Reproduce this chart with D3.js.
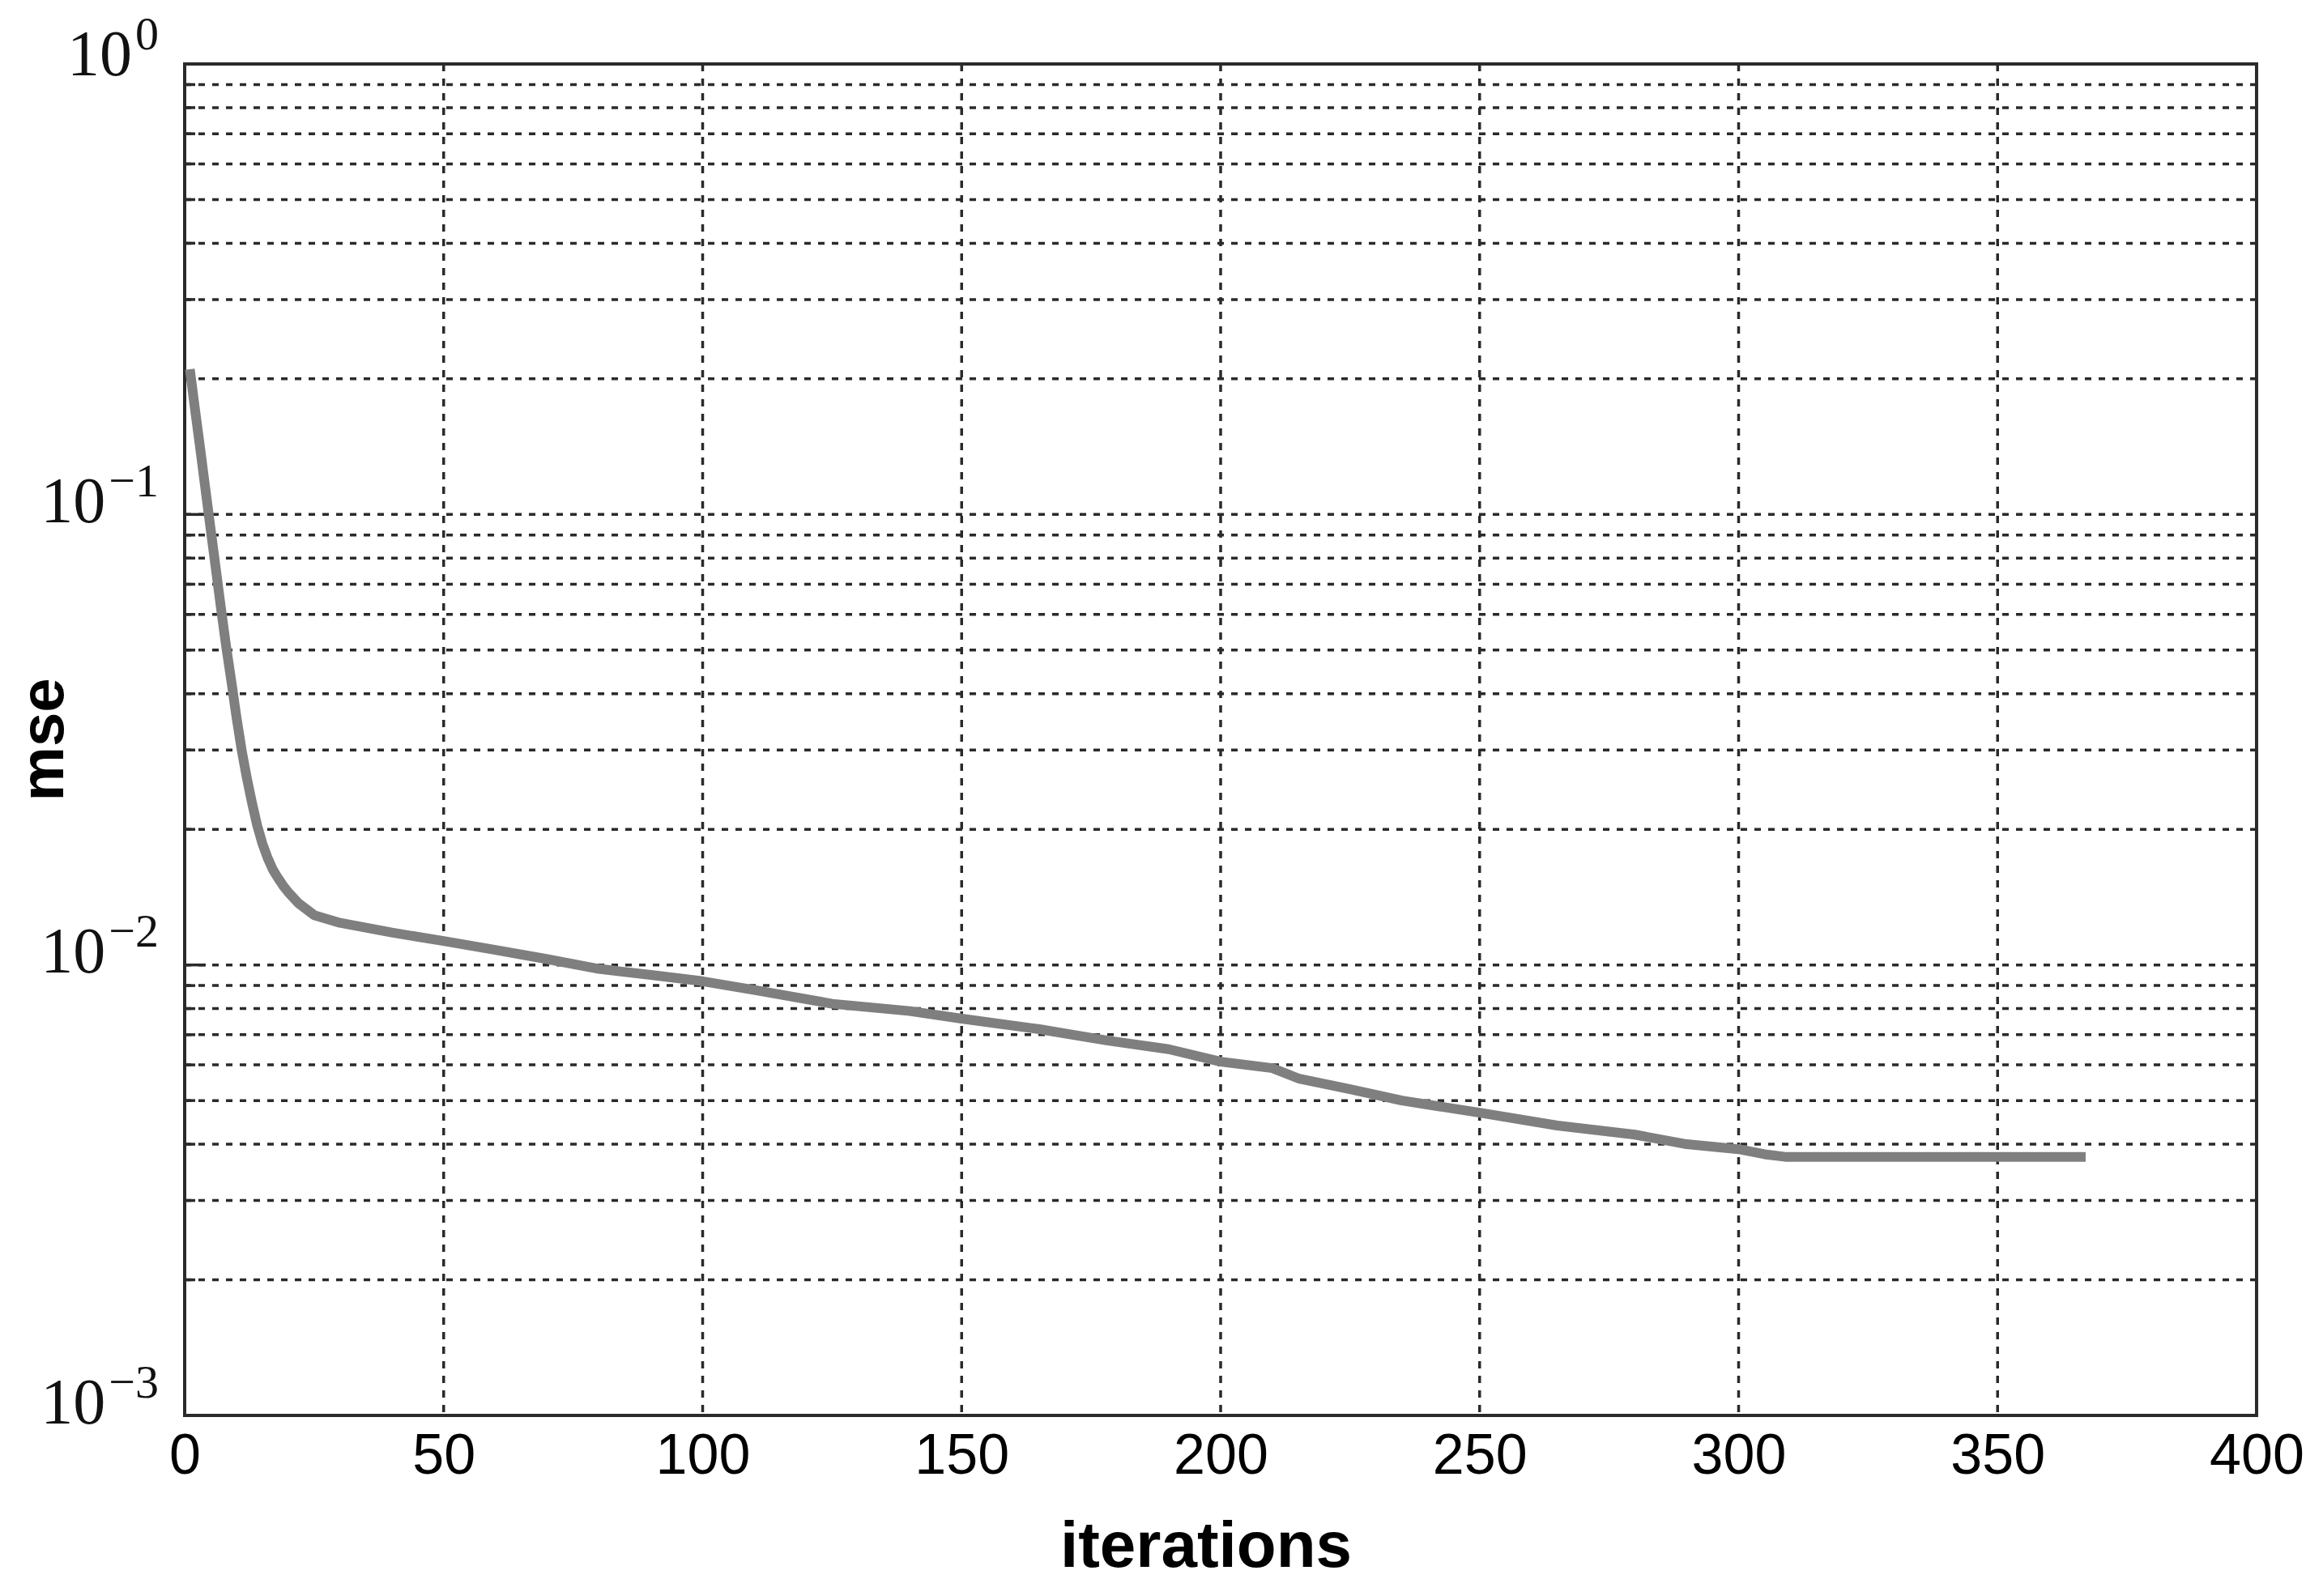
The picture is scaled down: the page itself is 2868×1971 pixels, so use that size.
<!DOCTYPE html>
<html>
<head>
<meta charset="utf-8">
<script src="https://cdn.jsdelivr.net/npm/d3@7"></script>
<style>
  html, body { margin: 0; padding: 0; background: #fff; }
  svg { display: block; }
</style>
</head>
<body>
<svg id="chart" width="2868" height="1971"></svg>
<script>
// ---- data ----
const iterations = [1, 2, 3, 4, 5, 6, 7, 8, 9, 10, 11, 12, 13, 14, 15, 16, 17, 18, 19, 20,
  22, 25, 30, 40, 50, 60, 70, 80, 90, 100, 110, 125, 140, 150, 165, 178, 190, 200,
  210, 215, 225, 235, 250, 265, 280, 290, 300, 305, 309, 367];
const mse = [0.21, 0.171, 0.14, 0.114, 0.093, 0.076, 0.062, 0.051, 0.0427, 0.0355, 0.030, 0.026,
  0.0229, 0.0204, 0.0186, 0.0173, 0.0163, 0.0156, 0.015, 0.0145,
  0.0137, 0.0129, 0.0124, 0.0118, 0.0113, 0.0108, 0.0103, 0.0098, 0.0095, 0.0092,
  0.0088, 0.0082, 0.0079, 0.0076, 0.0072, 0.0068, 0.0065, 0.0061,
  0.0059, 0.0056, 0.0053, 0.0050, 0.0047, 0.0044, 0.0042, 0.0040, 0.0039, 0.0038, 0.00375, 0.00375];
const xTicks = [0, 50, 100, 150, 200, 250, 300, 350, 400];
const yExponents = [0, -1, -2, -3];
const xLabel = "iterations";
const yLabel = "mse";

// ---- layout ----
const L = 228, R = 2786, T = 79, B = 1748;
const svg = d3.select("#chart");
const x = d3.scaleLinear().domain([0, 400]).range([L, R]);
const y = d3.scaleLog().domain([1e-3, 1]).range([B, T]);

const gridColor = "#2a2a2a";

// horizontal grid (all log ticks)
const yGridVals = y.ticks().filter(v => v > 1e-3 && v < 1);
svg.append("g").selectAll("line").data(yGridVals).join("line")
  .attr("x1", L).attr("x2", R)
  .attr("y1", d => y(d)).attr("y2", d => y(d))
  .attr("stroke", gridColor).attr("stroke-width", 3.5)
  .attr("stroke-dasharray", "8,9");

// vertical grid
svg.append("g").selectAll("line").data(xTicks.filter(v => v > 0)).join("line")
  .attr("x1", d => x(d)).attr("x2", d => x(d))
  .attr("y1", T).attr("y2", B)
  .attr("stroke", gridColor).attr("stroke-width", 3.5)
  .attr("stroke-dasharray", "9,9");

// y ticks (inward)
const majors = yExponents.map(e => Math.pow(10, e));
svg.append("g").selectAll("line").data(yGridVals).join("line")
  .attr("x1", L).attr("x2", d => L + (majors.some(m => Math.abs(m - d) / m < 1e-9) ? 26 : 13))
  .attr("y1", d => y(d)).attr("y2", d => y(d))
  .attr("stroke", "#2a2a2a").attr("stroke-width", 3.5);

// frame
svg.append("rect")
  .attr("x", L).attr("y", T).attr("width", R - L).attr("height", B - T)
  .attr("fill", "none").attr("stroke", "#2a2a2a").attr("stroke-width", 4);

// x axis labels via d3 axis
const xAxis = svg.append("g").attr("transform", `translate(0,${B})`)
  .call(d3.axisBottom(x).tickValues(xTicks).tickSize(0).tickPadding(0).tickFormat(d3.format("d")));
xAxis.select(".domain").remove();
xAxis.selectAll("text")
  .attr("y", 72).attr("dy", null)
  .attr("font-family", "'Liberation Sans', Arial, sans-serif")
  .attr("font-size", 70).attr("fill", "#000");

// y axis labels via d3 axis (10^n with superscript)
const yAxis = svg.append("g").attr("transform", `translate(${L},0)`)
  .call(d3.axisLeft(y).tickValues(majors).tickSize(0).tickPadding(0));
yAxis.select(".domain").remove();
yAxis.selectAll(".tick text").each(function(d) {
  const e = Math.round(Math.log10(d));
  const t = d3.select(this);
  t.text(null)
    .attr("x", -32).attr("dy", null)
    .attr("y", e === 0 ? 13 : 9)
    .attr("text-anchor", "end")
    .attr("font-family", "'Liberation Serif', 'Times New Roman', serif")
    .attr("fill", "#111");
  t.append("tspan").attr("font-size", 80).text("10");
  t.append("tspan").attr("font-size", 58).attr("dy", -32).attr("dx", 4)
    .text(e < 0 ? "\u2212" + Math.abs(e) : String(e));
});

// line
const line = d3.line().x((d, i) => x(iterations[i])).y(d => y(d));
svg.append("path").datum(mse)
  .attr("d", line)
  .attr("fill", "none").attr("stroke", "#7f7f7f")
  .attr("stroke-width", 12).attr("stroke-linejoin", "round");

// axis titles
svg.append("text").attr("x", 1489).attr("y", 1935)
  .attr("text-anchor", "middle")
  .attr("font-family", "'Liberation Sans', Arial, sans-serif")
  .attr("font-weight", "bold").attr("font-size", 80).attr("fill", "#000")
  .text(xLabel);
svg.append("text")
  .attr("transform", `translate(78,${(T + B) / 2}) rotate(-90)`)
  .attr("text-anchor", "middle")
  .attr("font-family", "'Liberation Sans', Arial, sans-serif")
  .attr("font-weight", "bold").attr("font-size", 76).attr("fill", "#000")
  .text(yLabel);
</script>
</body>
</html>
